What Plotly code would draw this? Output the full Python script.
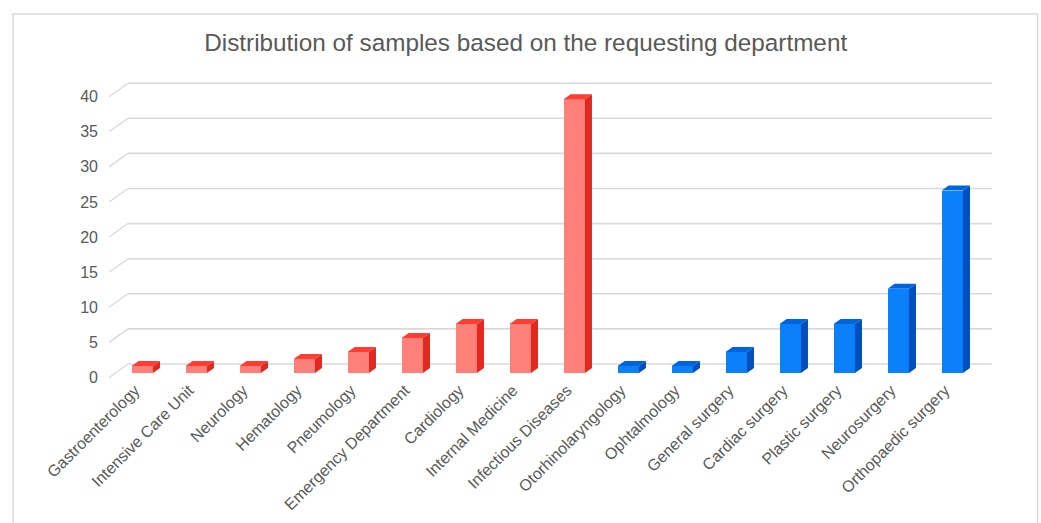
import plotly.graph_objects as go

# Samples per requesting department
medical_depts = ["Gastroenterology", "Intensive Care Unit", "Neurology", "Hematology",
                 "Pneumology", "Emergency Department", "Cardiology", "Internal Medicine",
                 "Infectious Diseases"]
medical_counts = [1, 1, 1, 2, 3, 5, 7, 7, 39]

surgical_depts = ["Otorhinolaryngology", "Ophtalmology", "General surgery", "Cardiac surgery",
                  "Plastic surgery", "Neurosurgery", "Orthopaedic surgery"]
surgical_counts = [1, 1, 3, 7, 7, 12, 26]

y_ticks = [0, 5, 10, 15, 20, 25, 30, 35, 40]

title = "Distribution of samples based on the requesting department"

# Oblique projection used for the pseudo-3D look (offset of one full depth unit)
DX = 0.352      # in category units
DY = 1.923      # in value units
BAR_FRONT = 0.33  # depth of the bar front face
BAR_DEPTH = 0.37  # depth extent of each bar
BAR_W = 0.395

FONT = "Liberation Sans, Arial, sans-serif"
TXT = "#595959"
GRID = "#d9d9d9"

categories = medical_depts + surgical_depts
counts = medical_counts + surgical_counts
n = len(categories)

palette = {
    "medical": dict(front="#ff8078", side="#e2291f", top="#ff3d33"),
    "surgical": dict(front="#0a80fb", side="#004fbf", top="#0064dd"),
}
groups = ["medical"] * len(medical_depts) + ["surgical"] * len(surgical_depts)

fig = go.Figure()

# Back wall gridlines and the floor-to-wall connectors on the left
shapes = []
x_left, x_right = -0.5, n - 0.5
for v in y_ticks:
    shapes.append(dict(type="line", xref="x", yref="y", layer="below",
                       x0=x_left + DX, x1=x_right + DX, y0=v + DY, y1=v + DY,
                       line=dict(color=GRID, width=1.6)))
    shapes.append(dict(type="line", xref="x", yref="y", layer="below",
                       x0=x_left, x1=x_left + DX, y0=v, y1=v + DY,
                       line=dict(color=GRID, width=1.3)))

# Light frame around the whole chart area
shapes.append(dict(type="rect", xref="paper", yref="paper", layer="below",
                   x0=-0.1077, x1=1.0421, y0=-0.46, y1=1.1778,
                   line=dict(color="#d9d9d9", width=1.5), fillcolor="rgba(0,0,0,0)"))

base = BAR_FRONT * DY
ox = BAR_FRONT * DX
ddx = BAR_DEPTH * DX
ddy = BAR_DEPTH * DY

for grp in ["medical", "surgical"]:
    idx = [i for i in range(n) if groups[i] == grp]
    cols = palette[grp]
    xs = [i + ox for i in idx]
    vals = [counts[i] for i in idx]
    # front faces
    fig.add_trace(go.Bar(x=xs, y=vals, base=[base] * len(vals), width=BAR_W,
                         marker=dict(color=cols["front"], line=dict(width=0)),
                         hovertext=[categories[i] for i in idx], showlegend=False))
    # side and top faces
    sx, sy = [], []
    tx, ty = [], []
    for x, v in zip(xs, vals):
        xl, xr = x - BAR_W / 2, x + BAR_W / 2
        sx += [xr, xr, xr + ddx, xr + ddx, xr, None]
        sy += [base, base + v, base + v + ddy, base + ddy, base, None]
        tx += [xl, xr, xr + ddx, xl + ddx, xl, None]
        ty += [base + v, base + v, base + v + ddy, base + v + ddy, base + v, None]
    fig.add_trace(go.Scatter(x=sx, y=sy, mode="lines", fill="toself",
                             fillcolor=cols["side"], line=dict(width=0, color=cols["side"]),
                             hoverinfo="skip", showlegend=False))
    fig.add_trace(go.Scatter(x=tx, y=ty, mode="lines", fill="toself",
                             fillcolor=cols["top"], line=dict(width=0, color=cols["top"]),
                             hoverinfo="skip", showlegend=False))

fig.update_layout(
    width=1041, height=523,
    margin=dict(l=109, r=41, t=70, b=138, autoexpand=False),
    paper_bgcolor="white", plot_bgcolor="white",
    shapes=shapes,
    bargap=0,
    title=dict(text=title, x=0.505, xanchor="center", xref="container",
               y=0.918, yanchor="middle", yref="container",
               font=dict(family=FONT, size=24.3, color=TXT)),
    xaxis=dict(range=[-0.5, 16.0], showgrid=False, zeroline=False, showline=False,
               automargin=False, ticklabelstandoff=-8,
               tickmode="array", tickvals=[i - 0.02 for i in range(n)], ticktext=categories,
               tickangle=-45, ticks="", tickfont=dict(family=FONT, size=16, color=TXT),
               fixedrange=True),
    yaxis=dict(range=[-1.068, 43.80], showgrid=False, zeroline=False, showline=False,
               automargin=False,
               tickmode="array", tickvals=y_ticks, ticktext=[str(t) for t in y_ticks],
               ticks="", ticklabelstandoff=10,
               tickfont=dict(family=FONT, size=16, color=TXT), fixedrange=True),
    font=dict(family=FONT, color=TXT),
)

fig.write_html("out.html")
